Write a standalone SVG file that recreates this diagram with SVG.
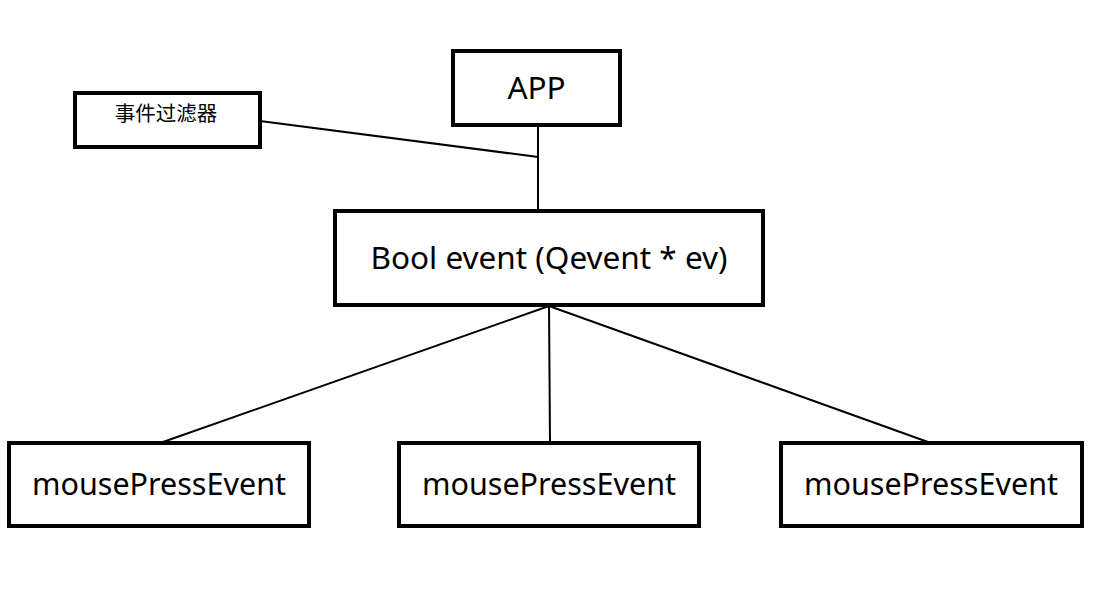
<svg xmlns="http://www.w3.org/2000/svg" width="1111" height="606" viewBox="0 0 1111 606">
<style>
.box{fill:#fff;stroke:#000;stroke-width:4}
.lbl{font-family:"Noto Sans","Open Sans","Noto Sans CJK SC",sans-serif;font-size:30.5px;fill:#000;text-anchor:middle;dominant-baseline:central}
.big{font-size:31.5px}
.cjk{font-family:"Noto Sans CJK SC",sans-serif;font-size:20.5px}
.conn{stroke:#000;stroke-width:2;fill:none}
</style>
<rect width="1111" height="606" fill="#fff"/>
<g id="connectors">
<line class="conn" x1="538" y1="126" x2="538" y2="210"/>
<line class="conn" x1="260" y1="121" x2="538" y2="157"/>
<line class="conn" x1="549" y1="306" x2="163" y2="442"/>
<line class="conn" x1="549" y1="306" x2="550" y2="442"/>
<line class="conn" x1="549" y1="306" x2="928" y2="442"/>
</g>
<g id="app"><rect class="box" x="453" y="51" width="167" height="74"/><text class="lbl big" x="536.5" y="86">APP</text></g>
<g id="filter"><rect class="box" x="75" y="93" width="185" height="54"/><text class="lbl cjk" x="166" y="112">事件过滤器</text></g>
<g id="event"><rect class="box" x="335" y="211" width="428" height="94"/><text class="lbl big" x="549" y="256">Bool event (Qevent * ev)</text></g>
<g id="m1"><rect class="box" x="9" y="443" width="300" height="83"/><text class="lbl" x="159" y="483">mousePressEvent</text></g>
<g id="m2"><rect class="box" x="399" y="443" width="300" height="83"/><text class="lbl" x="549" y="483">mousePressEvent</text></g>
<g id="m3"><rect class="box" x="781" y="443" width="301" height="83"/><text class="lbl" x="931" y="483">mousePressEvent</text></g>
</svg>
